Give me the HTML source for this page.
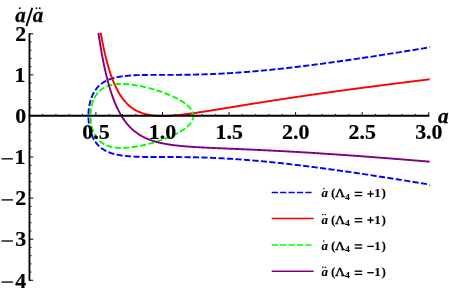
<!DOCTYPE html>
<html><head><meta charset="utf-8"><title>plot</title>
<style>
html,body{margin:0;padding:0;background:#fff;}
body{width:449px;height:294px;overflow:hidden;position:relative;font-family:"Liberation Serif",serif;}
</style></head><body>
<svg width="449" height="294" viewBox="0 0 449 294" style="position:absolute;left:0;top:0;will-change:transform">
<rect x="0" y="0" width="449" height="294" fill="#fff"/>
<g fill="none" stroke-width="1.9" stroke-linejoin="round">
<path d="M88.43 115.95 L88.43 115.44 L88.44 114.93 L88.45 114.42 L88.47 113.91 L88.48 113.40 L88.51 112.89 L88.54 112.38 L88.57 111.88 L88.60 111.37 L88.65 110.87 L88.69 110.36 L88.74 109.86 L88.79 109.36 L88.85 108.86 L88.91 108.36 L88.98 107.87 L89.05 107.37 L89.12 106.88 L89.20 106.39 L89.29 105.90 L89.37 105.41 L89.47 104.93 L89.56 104.45 L89.66 103.97 L89.77 103.50 L89.88 103.02 L89.99 102.55 L90.11 102.08 L90.23 101.62 L90.36 101.16 L90.49 100.70 L90.62 100.25 L90.76 99.79 L90.90 99.35 L91.05 98.90 L91.20 98.46 L91.36 98.02 L91.52 97.59 L91.68 97.16 L91.85 96.73 L92.02 96.31 L92.20 95.89 L92.38 95.48 L92.57 95.07 L92.76 94.66 L92.95 94.26 L93.15 93.86 L93.36 93.47 L93.56 93.08 L93.78 92.70 L93.99 92.32 L94.21 91.94 L94.44 91.57 L94.66 91.20 L94.90 90.84 L95.14 90.48 L95.38 90.13 L95.62 89.78 L95.87 89.44 L96.13 89.10 L96.39 88.76 L96.65 88.43 L96.92 88.11 L97.19 87.79 L97.46 87.47 L97.74 87.16 L98.03 86.85 L98.32 86.55 L98.61 86.25 L98.91 85.96 L99.21 85.67 L99.51 85.39 L99.82 85.11 L100.14 84.84 L100.46 84.57 L100.78 84.30 L101.11 84.04 L101.44 83.79 L101.77 83.54 L102.11 83.29 L102.46 83.05 L102.81 82.81 L103.16 82.58 L103.51 82.35 L103.88 82.13 L104.24 81.91 L104.61 81.69 L104.99 81.48 L105.36 81.27 L105.75 81.07 L106.13 80.87 L106.52 80.68 L106.92 80.49 L107.32 80.31 L107.72 80.12 L108.13 79.95 L108.54 79.77 L108.96 79.60 L109.38 79.44 L109.81 79.28 L110.24 79.12 L110.67 78.97 L111.11 78.82 L111.55 78.67 L112.00 78.53 L112.45 78.39 L112.91 78.26 L113.37 78.12 L113.83 78.00 L114.30 77.87 L114.77 77.75 L115.25 77.63 L115.73 77.52 L116.21 77.41 L116.70 77.30 L117.20 77.19 L117.69 77.09 L118.20 76.99 L118.70 76.90 L119.21 76.80 L119.73 76.72 L120.25 76.63 L120.77 76.54 L121.30 76.46 L121.83 76.38 L122.37 76.31 L122.91 76.24 L123.45 76.17 L124.00 76.10 L124.56 76.03 L125.12 75.97 L125.68 75.91 L126.24 75.85 L126.82 75.79 L127.39 75.74 L127.97 75.69 L128.55 75.64 L129.14 75.59 L129.73 75.55 L130.33 75.50 L130.93 75.46 L131.54 75.42 L132.14 75.38 L132.76 75.35 L133.38 75.31 L134.00 75.28 L134.62 75.25 L135.25 75.22 L135.89 75.19 L136.53 75.17 L137.17 75.14 L137.82 75.12 L138.47 75.10 L139.13 75.08 L139.79 75.06 L140.45 75.04 L141.12 75.02 L141.80 75.01 L142.47 74.99 L143.16 74.98 L143.84 74.97 L144.53 74.96 L145.23 74.95 L145.93 74.94 L146.63 74.93 L147.34 74.92 L148.05 74.91 L148.76 74.91 L149.49 74.90 L150.21 74.90 L150.94 74.89 L151.67 74.89 L152.41 74.88 L153.15 74.88 L153.90 74.88 L154.65 74.88 L155.40 74.87 L156.16 74.87 L156.92 74.87 L157.69 74.87 L158.46 74.87 L159.24 74.87 L160.02 74.87 L160.80 74.87 L161.59 74.87 L162.39 74.87 L163.18 74.87 L163.99 74.87 L164.79 74.87 L165.60 74.87 L166.42 74.87 L167.23 74.87 L168.06 74.87 L168.88 74.87 L169.72 74.87 L170.55 74.86 L171.39 74.86 L172.24 74.86 L173.09 74.86 L173.94 74.85 L174.80 74.85 L175.66 74.85 L176.52 74.84 L177.39 74.84 L178.27 74.83 L179.15 74.83 L180.03 74.82 L180.92 74.81 L181.81 74.80 L182.70 74.79 L183.60 74.79 L184.51 74.77 L185.42 74.76 L186.33 74.75 L187.25 74.74 L188.17 74.72 L189.09 74.71 L190.02 74.69 L190.96 74.68 L191.89 74.66 L192.84 74.64 L193.78 74.62 L194.74 74.60 L195.69 74.58 L196.65 74.56 L197.61 74.53 L198.58 74.51 L199.56 74.48 L200.53 74.46 L201.51 74.43 L202.50 74.40 L203.49 74.37 L204.48 74.34 L205.48 74.30 L206.48 74.27 L207.49 74.23 L208.50 74.20 L209.52 74.16 L210.54 74.12 L211.56 74.08 L212.59 74.03 L213.62 73.99 L214.66 73.94 L215.70 73.90 L216.74 73.85 L217.79 73.80 L218.85 73.75 L219.91 73.70 L220.97 73.64 L222.04 73.59 L223.11 73.53 L224.18 73.47 L225.26 73.41 L226.35 73.35 L227.43 73.29 L228.53 73.22 L229.62 73.16 L230.72 73.09 L231.83 73.02 L232.94 72.95 L234.05 72.88 L235.17 72.80 L236.29 72.73 L237.42 72.65 L238.55 72.57 L239.68 72.49 L240.82 72.41 L241.97 72.32 L243.12 72.24 L244.27 72.15 L245.42 72.06 L246.58 71.97 L247.75 71.88 L248.92 71.78 L250.09 71.69 L251.27 71.59 L252.45 71.49 L253.64 71.39 L254.83 71.29 L256.02 71.18 L257.22 71.08 L258.43 70.97 L259.63 70.86 L260.85 70.75 L262.06 70.63 L263.28 70.52 L264.51 70.40 L265.74 70.29 L266.97 70.17 L268.21 70.04 L269.45 69.92 L270.70 69.80 L271.95 69.67 L273.20 69.54 L274.46 69.41 L275.73 69.28 L276.99 69.15 L278.26 69.01 L279.54 68.88 L280.82 68.74 L282.11 68.60 L283.40 68.46 L284.69 68.31 L285.99 68.17 L287.29 68.02 L288.59 67.87 L289.90 67.72 L291.22 67.57 L292.54 67.42 L293.86 67.26 L295.19 67.10 L296.52 66.95 L297.86 66.79 L299.20 66.62 L300.54 66.46 L301.89 66.30 L303.24 66.13 L304.60 65.96 L305.96 65.79 L307.33 65.62 L308.70 65.45 L310.07 65.27 L311.45 65.09 L312.84 64.92 L314.22 64.74 L315.61 64.56 L317.01 64.37 L318.41 64.19 L319.81 64.00 L321.22 63.82 L322.64 63.63 L324.05 63.44 L325.48 63.25 L326.90 63.05 L328.33 62.86 L329.77 62.66 L331.20 62.46 L332.65 62.26 L334.09 62.06 L335.55 61.86 L337.00 61.66 L338.46 61.45 L339.93 61.24 L341.39 61.03 L342.87 60.82 L344.34 60.61 L345.83 60.40 L347.31 60.19 L348.80 59.97 L350.30 59.75 L351.79 59.53 L353.30 59.31 L354.80 59.09 L356.32 58.87 L357.83 58.65 L359.35 58.42 L360.87 58.19 L362.40 57.97 L363.94 57.74 L365.47 57.50 L367.01 57.27 L368.56 57.04 L370.11 56.80 L371.66 56.57 L373.22 56.33 L374.78 56.09 L376.35 55.85 L377.92 55.61 L379.50 55.36 L381.08 55.12 L382.66 54.87 L384.25 54.63 L385.84 54.38 L387.44 54.13 L389.04 53.88 L390.65 53.62 L392.26 53.37 L393.87 53.12 L395.49 52.86 L397.11 52.60 L398.74 52.34 L400.37 52.08 L402.00 51.82 L403.64 51.56 L405.29 51.30 L406.94 51.03 L408.59 50.77 L410.24 50.50 L411.91 50.23 L413.57 49.96 L415.24 49.69 L416.91 49.42 L418.59 49.15 L420.27 48.87 L421.96 48.60 L423.65 48.32 L425.35 48.04 L427.05 47.76 L428.75 47.48" stroke="#0000ff" stroke-dasharray="4.2525 4.2525" stroke-dashoffset="-2.45" stroke-linecap="square"/>
<path d="M88.43 115.95 L88.43 116.46 L88.44 116.97 L88.45 117.48 L88.47 117.99 L88.48 118.50 L88.51 119.01 L88.54 119.52 L88.57 120.02 L88.60 120.53 L88.65 121.03 L88.69 121.54 L88.74 122.04 L88.79 122.54 L88.85 123.04 L88.91 123.54 L88.98 124.03 L89.05 124.53 L89.12 125.02 L89.20 125.51 L89.29 126.00 L89.37 126.49 L89.47 126.97 L89.56 127.45 L89.66 127.93 L89.77 128.40 L89.88 128.88 L89.99 129.35 L90.11 129.82 L90.23 130.28 L90.36 130.74 L90.49 131.20 L90.62 131.65 L90.76 132.11 L90.90 132.55 L91.05 133.00 L91.20 133.44 L91.36 133.88 L91.52 134.31 L91.68 134.74 L91.85 135.17 L92.02 135.59 L92.20 136.01 L92.38 136.42 L92.57 136.83 L92.76 137.24 L92.95 137.64 L93.15 138.04 L93.36 138.43 L93.56 138.82 L93.78 139.20 L93.99 139.58 L94.21 139.96 L94.44 140.33 L94.66 140.70 L94.90 141.06 L95.14 141.42 L95.38 141.77 L95.62 142.12 L95.87 142.46 L96.13 142.80 L96.39 143.14 L96.65 143.47 L96.92 143.79 L97.19 144.11 L97.46 144.43 L97.74 144.74 L98.03 145.05 L98.32 145.35 L98.61 145.65 L98.91 145.94 L99.21 146.23 L99.51 146.51 L99.82 146.79 L100.14 147.06 L100.46 147.33 L100.78 147.60 L101.11 147.86 L101.44 148.11 L101.77 148.36 L102.11 148.61 L102.46 148.85 L102.81 149.09 L103.16 149.32 L103.51 149.55 L103.88 149.77 L104.24 149.99 L104.61 150.21 L104.99 150.42 L105.36 150.63 L105.75 150.83 L106.13 151.03 L106.52 151.22 L106.92 151.41 L107.32 151.59 L107.72 151.78 L108.13 151.95 L108.54 152.13 L108.96 152.30 L109.38 152.46 L109.81 152.62 L110.24 152.78 L110.67 152.93 L111.11 153.08 L111.55 153.23 L112.00 153.37 L112.45 153.51 L112.91 153.64 L113.37 153.78 L113.83 153.90 L114.30 154.03 L114.77 154.15 L115.25 154.27 L115.73 154.38 L116.21 154.49 L116.70 154.60 L117.20 154.71 L117.69 154.81 L118.20 154.91 L118.70 155.00 L119.21 155.10 L119.73 155.18 L120.25 155.27 L120.77 155.36 L121.30 155.44 L121.83 155.52 L122.37 155.59 L122.91 155.66 L123.45 155.73 L124.00 155.80 L124.56 155.87 L125.12 155.93 L125.68 155.99 L126.24 156.05 L126.82 156.11 L127.39 156.16 L127.97 156.21 L128.55 156.26 L129.14 156.31 L129.73 156.35 L130.33 156.40 L130.93 156.44 L131.54 156.48 L132.14 156.52 L132.76 156.55 L133.38 156.59 L134.00 156.62 L134.62 156.65 L135.25 156.68 L135.89 156.71 L136.53 156.73 L137.17 156.76 L137.82 156.78 L138.47 156.80 L139.13 156.82 L139.79 156.84 L140.45 156.86 L141.12 156.88 L141.80 156.89 L142.47 156.91 L143.16 156.92 L143.84 156.93 L144.53 156.94 L145.23 156.95 L145.93 156.96 L146.63 156.97 L147.34 156.98 L148.05 156.99 L148.76 156.99 L149.49 157.00 L150.21 157.00 L150.94 157.01 L151.67 157.01 L152.41 157.02 L153.15 157.02 L153.90 157.02 L154.65 157.02 L155.40 157.03 L156.16 157.03 L156.92 157.03 L157.69 157.03 L158.46 157.03 L159.24 157.03 L160.02 157.03 L160.80 157.03 L161.59 157.03 L162.39 157.03 L163.18 157.03 L163.99 157.03 L164.79 157.03 L165.60 157.03 L166.42 157.03 L167.23 157.03 L168.06 157.03 L168.88 157.03 L169.72 157.03 L170.55 157.04 L171.39 157.04 L172.24 157.04 L173.09 157.04 L173.94 157.05 L174.80 157.05 L175.66 157.05 L176.52 157.06 L177.39 157.06 L178.27 157.07 L179.15 157.07 L180.03 157.08 L180.92 157.09 L181.81 157.10 L182.70 157.11 L183.60 157.11 L184.51 157.13 L185.42 157.14 L186.33 157.15 L187.25 157.16 L188.17 157.18 L189.09 157.19 L190.02 157.21 L190.96 157.22 L191.89 157.24 L192.84 157.26 L193.78 157.28 L194.74 157.30 L195.69 157.32 L196.65 157.34 L197.61 157.37 L198.58 157.39 L199.56 157.42 L200.53 157.44 L201.51 157.47 L202.50 157.50 L203.49 157.53 L204.48 157.56 L205.48 157.60 L206.48 157.63 L207.49 157.67 L208.50 157.70 L209.52 157.74 L210.54 157.78 L211.56 157.82 L212.59 157.87 L213.62 157.91 L214.66 157.96 L215.70 158.00 L216.74 158.05 L217.79 158.10 L218.85 158.15 L219.91 158.20 L220.97 158.26 L222.04 158.31 L223.11 158.37 L224.18 158.43 L225.26 158.49 L226.35 158.55 L227.43 158.61 L228.53 158.68 L229.62 158.74 L230.72 158.81 L231.83 158.88 L232.94 158.95 L234.05 159.02 L235.17 159.10 L236.29 159.17 L237.42 159.25 L238.55 159.33 L239.68 159.41 L240.82 159.49 L241.97 159.58 L243.12 159.66 L244.27 159.75 L245.42 159.84 L246.58 159.93 L247.75 160.02 L248.92 160.12 L250.09 160.21 L251.27 160.31 L252.45 160.41 L253.64 160.51 L254.83 160.61 L256.02 160.72 L257.22 160.82 L258.43 160.93 L259.63 161.04 L260.85 161.15 L262.06 161.27 L263.28 161.38 L264.51 161.50 L265.74 161.61 L266.97 161.73 L268.21 161.86 L269.45 161.98 L270.70 162.10 L271.95 162.23 L273.20 162.36 L274.46 162.49 L275.73 162.62 L276.99 162.75 L278.26 162.89 L279.54 163.02 L280.82 163.16 L282.11 163.30 L283.40 163.44 L284.69 163.59 L285.99 163.73 L287.29 163.88 L288.59 164.03 L289.90 164.18 L291.22 164.33 L292.54 164.48 L293.86 164.64 L295.19 164.80 L296.52 164.95 L297.86 165.11 L299.20 165.28 L300.54 165.44 L301.89 165.60 L303.24 165.77 L304.60 165.94 L305.96 166.11 L307.33 166.28 L308.70 166.45 L310.07 166.63 L311.45 166.81 L312.84 166.98 L314.22 167.16 L315.61 167.34 L317.01 167.53 L318.41 167.71 L319.81 167.90 L321.22 168.08 L322.64 168.27 L324.05 168.46 L325.48 168.65 L326.90 168.85 L328.33 169.04 L329.77 169.24 L331.20 169.44 L332.65 169.64 L334.09 169.84 L335.55 170.04 L337.00 170.24 L338.46 170.45 L339.93 170.66 L341.39 170.87 L342.87 171.08 L344.34 171.29 L345.83 171.50 L347.31 171.71 L348.80 171.93 L350.30 172.15 L351.79 172.37 L353.30 172.59 L354.80 172.81 L356.32 173.03 L357.83 173.25 L359.35 173.48 L360.87 173.71 L362.40 173.93 L363.94 174.16 L365.47 174.40 L367.01 174.63 L368.56 174.86 L370.11 175.10 L371.66 175.33 L373.22 175.57 L374.78 175.81 L376.35 176.05 L377.92 176.29 L379.50 176.54 L381.08 176.78 L382.66 177.03 L384.25 177.27 L385.84 177.52 L387.44 177.77 L389.04 178.02 L390.65 178.28 L392.26 178.53 L393.87 178.78 L395.49 179.04 L397.11 179.30 L398.74 179.56 L400.37 179.82 L402.00 180.08 L403.64 180.34 L405.29 180.60 L406.94 180.87 L408.59 181.13 L410.24 181.40 L411.91 181.67 L413.57 181.94 L415.24 182.21 L416.91 182.48 L418.59 182.75 L420.27 183.03 L421.96 183.30 L423.65 183.58 L425.35 183.86 L427.05 184.14 L428.75 184.42" stroke="#0000ff" stroke-dasharray="4.2525 4.2525" stroke-dashoffset="-2.45" stroke-linecap="square"/>
<path d="M100.90 33.79 L101.55 37.44 L102.21 40.92 L102.87 44.25 L103.52 47.43 L104.18 50.47 L104.84 53.38 L105.49 56.16 L106.15 58.82 L106.81 61.36 L107.47 63.79 L108.12 66.12 L108.78 68.35 L109.44 70.49 L110.09 72.53 L110.75 74.49 L111.41 76.36 L112.06 78.15 L112.72 79.87 L113.38 81.52 L114.04 83.09 L114.69 84.60 L115.35 86.05 L116.01 87.44 L116.66 88.76 L117.32 90.04 L117.98 91.26 L118.63 92.42 L119.29 93.54 L119.95 94.62 L120.61 95.64 L121.26 96.63 L121.92 97.57 L122.58 98.48 L123.23 99.34 L123.89 100.17 L124.55 100.97 L125.21 101.73 L125.86 102.46 L126.52 103.16 L127.18 103.83 L127.83 104.47 L128.49 105.08 L129.15 105.67 L129.80 106.23 L130.46 106.76 L131.12 107.28 L131.78 107.77 L132.43 108.24 L133.09 108.69 L133.75 109.12 L134.40 109.52 L135.06 109.91 L135.72 110.29 L136.37 110.64 L137.03 110.98 L137.69 111.31 L138.35 111.61 L139.00 111.91 L139.66 112.18 L140.32 112.45 L140.97 112.70 L141.63 112.94 L142.29 113.17 L142.94 113.38 L143.60 113.58 L144.26 113.78 L144.92 113.96 L145.57 114.13 L146.23 114.29 L146.89 114.44 L147.54 114.59 L148.20 114.72 L148.86 114.85 L149.51 114.96 L150.17 115.07 L150.83 115.17 L151.49 115.27 L152.14 115.35 L152.80 115.43 L153.46 115.51 L154.11 115.58 L154.77 115.64 L155.43 115.69 L156.09 115.74 L156.74 115.78 L157.40 115.82 L158.06 115.85 L158.71 115.88 L159.37 115.90 L160.03 115.92 L160.68 115.94 L161.34 115.94 L162.00 115.95 L162.66 115.95 L163.31 115.95 L163.97 115.94 L164.63 115.93 L165.28 115.91 L165.94 115.90 L166.60 115.88 L167.25 115.85 L167.91 115.82 L168.57 115.79 L169.23 115.76 L169.88 115.72 L170.54 115.69 L171.20 115.64 L171.85 115.60 L172.51 115.55 L173.17 115.50 L173.82 115.45 L174.48 115.40 L175.14 115.35 L175.80 115.29 L176.45 115.23 L177.11 115.17 L177.77 115.10 L178.42 115.04 L179.08 114.97 L179.74 114.90 L180.40 114.83 L181.05 114.76 L181.71 114.69 L182.37 114.61 L183.02 114.54 L183.68 114.46 L184.34 114.38 L184.99 114.30 L185.65 114.22 L186.31 114.14 L186.97 114.06 L187.62 113.97 L188.28 113.89 L188.94 113.80 L189.59 113.71 L190.25 113.63 L190.91 113.54 L191.56 113.45 L192.22 113.35 L192.88 113.26 L193.54 113.17 L194.19 113.08 L194.85 112.98 L195.51 112.89 L196.16 112.79 L196.82 112.70 L197.48 112.60 L198.13 112.50 L198.79 112.41 L199.45 112.31 L200.11 112.21 L200.76 112.11 L201.42 112.01 L202.08 111.91 L202.73 111.81 L203.39 111.71 L204.05 111.61 L204.70 111.50 L205.36 111.40 L206.02 111.30 L206.68 111.20 L207.33 111.09 L207.99 110.99 L208.65 110.89 L209.30 110.78 L209.96 110.68 L210.62 110.57 L211.28 110.47 L211.93 110.36 L212.59 110.26 L213.25 110.15 L213.90 110.05 L214.56 109.94 L215.22 109.83 L215.87 109.73 L216.53 109.62 L217.19 109.51 L217.85 109.41 L218.50 109.30 L219.16 109.19 L219.82 109.09 L220.47 108.98 L221.13 108.87 L221.79 108.77 L222.44 108.66 L223.10 108.55 L223.76 108.44 L224.42 108.34 L225.07 108.23 L225.73 108.12 L226.39 108.01 L227.04 107.91 L227.70 107.80 L228.36 107.69 L229.01 107.58 L229.67 107.48 L230.33 107.37 L230.99 107.26 L231.64 107.15 L232.30 107.05 L232.96 106.94 L233.61 106.83 L234.27 106.72 L234.93 106.62 L235.59 106.51 L236.24 106.40 L236.90 106.29 L237.56 106.19 L238.21 106.08 L238.87 105.97 L239.53 105.86 L240.18 105.76 L240.84 105.65 L241.50 105.54 L242.16 105.44 L242.81 105.33 L243.47 105.22 L244.13 105.12 L244.78 105.01 L245.44 104.90 L246.10 104.80 L246.75 104.69 L247.41 104.59 L248.07 104.48 L248.73 104.37 L249.38 104.27 L250.04 104.16 L250.70 104.06 L251.35 103.95 L252.01 103.85 L252.67 103.74 L253.32 103.63 L253.98 103.53 L254.64 103.42 L255.30 103.32 L255.95 103.22 L256.61 103.11 L257.27 103.01 L257.92 102.90 L258.58 102.80 L259.24 102.69 L259.89 102.59 L260.55 102.48 L261.21 102.38 L261.87 102.28 L262.52 102.17 L263.18 102.07 L263.84 101.97 L264.49 101.86 L265.15 101.76 L265.81 101.66 L266.47 101.55 L267.12 101.45 L267.78 101.35 L268.44 101.25 L269.09 101.14 L269.75 101.04 L270.41 100.94 L271.06 100.84 L271.72 100.74 L272.38 100.63 L273.04 100.53 L273.69 100.43 L274.35 100.33 L275.01 100.23 L275.66 100.13 L276.32 100.03 L276.98 99.93 L277.63 99.83 L278.29 99.72 L278.95 99.62 L279.61 99.52 L280.26 99.42 L280.92 99.32 L281.58 99.22 L282.23 99.12 L282.89 99.02 L283.55 98.92 L284.20 98.83 L284.86 98.73 L285.52 98.63 L286.18 98.53 L286.83 98.43 L287.49 98.33 L288.15 98.23 L288.80 98.13 L289.46 98.03 L290.12 97.94 L290.78 97.84 L291.43 97.74 L292.09 97.64 L292.75 97.54 L293.40 97.45 L294.06 97.35 L294.72 97.25 L295.37 97.16 L296.03 97.06 L296.69 96.96 L297.35 96.86 L298.00 96.77 L298.66 96.67 L299.32 96.57 L299.97 96.48 L300.63 96.38 L301.29 96.29 L301.94 96.19 L302.60 96.09 L303.26 96.00 L303.92 95.90 L304.57 95.81 L305.23 95.71 L305.89 95.62 L306.54 95.52 L307.20 95.43 L307.86 95.33 L308.51 95.24 L309.17 95.14 L309.83 95.05 L310.49 94.95 L311.14 94.86 L311.80 94.76 L312.46 94.67 L313.11 94.58 L313.77 94.48 L314.43 94.39 L315.08 94.29 L315.74 94.20 L316.40 94.11 L317.06 94.01 L317.71 93.92 L318.37 93.83 L319.03 93.74 L319.68 93.64 L320.34 93.55 L321.00 93.46 L321.66 93.36 L322.31 93.27 L322.97 93.18 L323.63 93.09 L324.28 93.00 L324.94 92.90 L325.60 92.81 L326.25 92.72 L326.91 92.63 L327.57 92.54 L328.23 92.45 L328.88 92.35 L329.54 92.26 L330.20 92.17 L330.85 92.08 L331.51 91.99 L332.17 91.90 L332.82 91.81 L333.48 91.72 L334.14 91.63 L334.80 91.54 L335.45 91.45 L336.11 91.36 L336.77 91.27 L337.42 91.18 L338.08 91.09 L338.74 91.00 L339.39 90.91 L340.05 90.82 L340.71 90.73 L341.37 90.64 L342.02 90.55 L342.68 90.46 L343.34 90.37 L343.99 90.28 L344.65 90.19 L345.31 90.10 L345.97 90.01 L346.62 89.93 L347.28 89.84 L347.94 89.75 L348.59 89.66 L349.25 89.57 L349.91 89.48 L350.56 89.39 L351.22 89.31 L351.88 89.22 L352.54 89.13 L353.19 89.04 L353.85 88.96 L354.51 88.87 L355.16 88.78 L355.82 88.69 L356.48 88.61 L357.13 88.52 L357.79 88.43 L358.45 88.34 L359.11 88.26 L359.76 88.17 L360.42 88.08 L361.08 88.00 L361.73 87.91 L362.39 87.82 L363.05 87.74 L363.70 87.65 L364.36 87.56 L365.02 87.48 L365.68 87.39 L366.33 87.30 L366.99 87.22 L367.65 87.13 L368.30 87.05 L368.96 86.96 L369.62 86.88 L370.27 86.79 L370.93 86.70 L371.59 86.62 L372.25 86.53 L372.90 86.45 L373.56 86.36 L374.22 86.28 L374.87 86.19 L375.53 86.11 L376.19 86.02 L376.85 85.94 L377.50 85.85 L378.16 85.77 L378.82 85.68 L379.47 85.60 L380.13 85.51 L380.79 85.43 L381.44 85.35 L382.10 85.26 L382.76 85.18 L383.42 85.09 L384.07 85.01 L384.73 84.92 L385.39 84.84 L386.04 84.76 L386.70 84.67 L387.36 84.59 L388.01 84.51 L388.67 84.42 L389.33 84.34 L389.99 84.25 L390.64 84.17 L391.30 84.09 L391.96 84.00 L392.61 83.92 L393.27 83.84 L393.93 83.75 L394.58 83.67 L395.24 83.59 L395.90 83.51 L396.56 83.42 L397.21 83.34 L397.87 83.26 L398.53 83.17 L399.18 83.09 L399.84 83.01 L400.50 82.93 L401.16 82.84 L401.81 82.76 L402.47 82.68 L403.13 82.60 L403.78 82.52 L404.44 82.43 L405.10 82.35 L405.75 82.27 L406.41 82.19 L407.07 82.11 L407.73 82.02 L408.38 81.94 L409.04 81.86 L409.70 81.78 L410.35 81.70 L411.01 81.62 L411.67 81.53 L412.32 81.45 L412.98 81.37 L413.64 81.29 L414.30 81.21 L414.95 81.13 L415.61 81.05 L416.27 80.97 L416.92 80.88 L417.58 80.80 L418.24 80.72 L418.89 80.64 L419.55 80.56 L420.21 80.48 L420.87 80.40 L421.52 80.32 L422.18 80.24 L422.84 80.16 L423.49 80.08 L424.15 80.00 L424.81 79.92 L425.46 79.84 L426.12 79.76 L426.78 79.67 L427.44 79.59 L428.09 79.51 L428.75 79.43" stroke="#ff0000" stroke-linecap="square"/>
<path d="M90.54 115.95 L90.54 115.56 L90.54 115.16 L90.55 114.77 L90.56 114.38 L90.58 113.99 L90.59 113.60 L90.62 113.20 L90.64 112.81 L90.67 112.42 L90.70 112.03 L90.73 111.65 L90.77 111.26 L90.81 110.87 L90.85 110.49 L90.90 110.10 L90.94 109.72 L91.00 109.34 L91.05 108.96 L91.11 108.58 L91.17 108.20 L91.24 107.82 L91.31 107.45 L91.38 107.07 L91.45 106.70 L91.53 106.33 L91.61 105.96 L91.69 105.60 L91.78 105.23 L91.87 104.87 L91.96 104.51 L92.06 104.16 L92.16 103.80 L92.26 103.45 L92.37 103.10 L92.48 102.75 L92.59 102.40 L92.70 102.06 L92.82 101.72 L92.94 101.38 L93.07 101.05 L93.19 100.71 L93.32 100.39 L93.45 100.06 L93.59 99.73 L93.73 99.41 L93.87 99.10 L94.02 98.78 L94.16 98.47 L94.31 98.16 L94.47 97.85 L94.63 97.55 L94.78 97.25 L94.95 96.95 L95.11 96.66 L95.28 96.37 L95.45 96.08 L95.63 95.80 L95.80 95.52 L95.98 95.24 L96.17 94.97 L96.35 94.70 L96.54 94.43 L96.73 94.17 L96.93 93.91 L97.12 93.66 L97.32 93.40 L97.52 93.15 L97.73 92.91 L97.94 92.67 L98.15 92.43 L98.36 92.19 L98.58 91.96 L98.79 91.73 L99.02 91.51 L99.24 91.29 L99.47 91.07 L99.70 90.86 L99.93 90.65 L100.16 90.44 L100.40 90.24 L100.64 90.04 L100.88 89.84 L101.13 89.65 L101.37 89.46 L101.62 89.27 L101.88 89.09 L102.13 88.91 L102.39 88.74 L102.65 88.57 L102.91 88.40 L103.17 88.24 L103.44 88.07 L103.71 87.92 L103.98 87.76 L104.26 87.61 L104.53 87.46 L104.81 87.32 L105.09 87.18 L105.38 87.04 L105.66 86.91 L105.95 86.78 L106.24 86.65 L106.53 86.53 L106.83 86.41 L107.12 86.29 L107.42 86.18 L107.72 86.06 L108.02 85.96 L108.33 85.85 L108.64 85.75 L108.95 85.65 L109.26 85.56 L109.57 85.46 L109.89 85.37 L110.20 85.29 L110.52 85.21 L110.84 85.13 L111.17 85.05 L111.49 84.97 L111.82 84.90 L112.15 84.83 L112.48 84.77 L112.81 84.70 L113.15 84.64 L113.48 84.59 L113.82 84.53 L114.16 84.48 L114.50 84.43 L114.84 84.39 L115.19 84.34 L115.53 84.30 L115.88 84.26 L116.23 84.23 L116.58 84.19 L116.94 84.16 L117.29 84.13 L117.65 84.11 L118.00 84.08 L118.36 84.06 L118.72 84.04 L119.08 84.03 L119.45 84.01 L119.81 84.00 L120.18 83.99 L120.55 83.99 L120.91 83.98 L121.28 83.98 L121.66 83.98 L122.03 83.98 L122.40 83.99 L122.78 83.99 L123.15 84.00 L123.53 84.01 L123.91 84.02 L124.29 84.04 L124.67 84.05 L125.05 84.07 L125.43 84.09 L125.82 84.12 L126.20 84.14 L126.59 84.17 L126.97 84.20 L127.36 84.23 L127.75 84.26 L128.14 84.29 L128.53 84.33 L128.92 84.36 L129.31 84.40 L129.70 84.44 L130.10 84.49 L130.49 84.53 L130.89 84.58 L131.28 84.62 L131.68 84.67 L132.07 84.73 L132.47 84.78 L132.87 84.83 L133.27 84.89 L133.67 84.94 L134.07 85.00 L134.47 85.06 L134.87 85.13 L135.27 85.19 L135.67 85.25 L136.07 85.32 L136.47 85.39 L136.88 85.46 L137.28 85.53 L137.68 85.60 L138.09 85.67 L138.49 85.74 L138.89 85.82 L139.30 85.90 L139.70 85.98 L140.11 86.05 L140.51 86.14 L140.92 86.22 L141.32 86.30 L141.72 86.39 L142.13 86.47 L142.53 86.56 L142.94 86.65 L143.34 86.74 L143.75 86.83 L144.15 86.92 L144.56 87.01 L144.96 87.10 L145.36 87.20 L145.77 87.29 L146.17 87.39 L146.57 87.49 L146.98 87.59 L147.38 87.69 L147.78 87.79 L148.18 87.89 L148.58 87.99 L148.99 88.10 L149.39 88.20 L149.79 88.31 L150.19 88.42 L150.58 88.52 L150.98 88.63 L151.38 88.74 L151.78 88.85 L152.18 88.96 L152.57 89.08 L152.97 89.19 L153.36 89.30 L153.76 89.42 L154.15 89.53 L154.54 89.65 L154.93 89.77 L155.33 89.89 L155.72 90.01 L156.10 90.12 L156.49 90.25 L156.88 90.37 L157.27 90.49 L157.65 90.61 L158.04 90.74 L158.42 90.86 L158.80 90.99 L159.19 91.11 L159.57 91.24 L159.95 91.36 L160.32 91.49 L160.70 91.62 L161.08 91.75 L161.45 91.88 L161.83 92.01 L162.20 92.14 L162.57 92.28 L162.94 92.41 L163.31 92.54 L163.68 92.68 L164.04 92.81 L164.41 92.94 L164.77 93.08 L165.13 93.22 L165.49 93.35 L165.85 93.49 L166.21 93.63 L166.56 93.77 L166.92 93.91 L167.27 94.05 L167.62 94.19 L167.97 94.33 L168.32 94.47 L168.67 94.61 L169.01 94.76 L169.35 94.90 L169.69 95.04 L170.03 95.19 L170.37 95.33 L170.71 95.48 L171.04 95.62 L171.38 95.77 L171.71 95.92 L172.03 96.06 L172.36 96.21 L172.69 96.36 L173.01 96.51 L173.33 96.66 L173.65 96.81 L173.97 96.96 L174.28 97.11 L174.60 97.26 L174.91 97.41 L175.22 97.56 L175.52 97.71 L175.83 97.87 L176.13 98.02 L176.43 98.17 L176.73 98.33 L177.03 98.48 L177.32 98.64 L177.62 98.79 L177.91 98.95 L178.19 99.10 L178.48 99.26 L178.76 99.42 L179.04 99.57 L179.32 99.73 L179.60 99.89 L179.87 100.05 L180.14 100.21 L180.41 100.36 L180.68 100.52 L180.94 100.68 L181.21 100.84 L181.47 101.00 L181.72 101.16 L181.98 101.32 L182.23 101.49 L182.48 101.65 L182.73 101.81 L182.97 101.97 L183.21 102.13 L183.45 102.30 L183.69 102.46 L183.93 102.62 L184.16 102.79 L184.39 102.95 L184.61 103.11 L184.84 103.28 L185.06 103.44 L185.28 103.61 L185.49 103.77 L185.71 103.94 L185.92 104.11 L186.12 104.27 L186.33 104.44 L186.53 104.60 L186.73 104.77 L186.93 104.94 L187.12 105.10 L187.31 105.27 L187.50 105.44 L187.69 105.61 L187.87 105.78 L188.05 105.94 L188.23 106.11 L188.40 106.28 L188.57 106.45 L188.74 106.62 L188.91 106.79 L189.07 106.96 L189.23 107.13 L189.39 107.30 L189.54 107.47 L189.69 107.64 L189.84 107.81 L189.98 107.98 L190.12 108.15 L190.26 108.32 L190.40 108.49 L190.53 108.66 L190.66 108.84 L190.79 109.01 L190.91 109.18 L191.03 109.35 L191.15 109.52 L191.27 109.70 L191.38 109.87 L191.49 110.04 L191.59 110.21 L191.69 110.38 L191.79 110.56 L191.89 110.73 L191.98 110.90 L192.07 111.08 L192.16 111.25 L192.24 111.42 L192.32 111.60 L192.40 111.77 L192.48 111.94 L192.55 112.12 L192.62 112.29 L192.68 112.46 L192.74 112.64 L192.80 112.81 L192.86 112.99 L192.91 113.16 L192.96 113.33 L193.00 113.51 L193.05 113.68 L193.09 113.86 L193.12 114.03 L193.16 114.21 L193.19 114.38 L193.21 114.55 L193.24 114.73 L193.26 114.90 L193.28 115.08 L193.29 115.25 L193.30 115.43 L193.31 115.60 L193.31 115.78 L193.32 115.95" stroke="#00ff00" stroke-dasharray="4.2525 4.2525" stroke-dashoffset="-2.45" stroke-linecap="square"/>
<path d="M90.54 115.95 L90.54 116.34 L90.54 116.74 L90.55 117.13 L90.56 117.52 L90.58 117.91 L90.59 118.30 L90.62 118.70 L90.64 119.09 L90.67 119.48 L90.70 119.87 L90.73 120.25 L90.77 120.64 L90.81 121.03 L90.85 121.41 L90.90 121.80 L90.94 122.18 L91.00 122.56 L91.05 122.94 L91.11 123.32 L91.17 123.70 L91.24 124.08 L91.31 124.45 L91.38 124.83 L91.45 125.20 L91.53 125.57 L91.61 125.94 L91.69 126.30 L91.78 126.67 L91.87 127.03 L91.96 127.39 L92.06 127.74 L92.16 128.10 L92.26 128.45 L92.37 128.80 L92.48 129.15 L92.59 129.50 L92.70 129.84 L92.82 130.18 L92.94 130.52 L93.07 130.85 L93.19 131.19 L93.32 131.51 L93.45 131.84 L93.59 132.17 L93.73 132.49 L93.87 132.80 L94.02 133.12 L94.16 133.43 L94.31 133.74 L94.47 134.05 L94.63 134.35 L94.78 134.65 L94.95 134.95 L95.11 135.24 L95.28 135.53 L95.45 135.82 L95.63 136.10 L95.80 136.38 L95.98 136.66 L96.17 136.93 L96.35 137.20 L96.54 137.47 L96.73 137.73 L96.93 137.99 L97.12 138.24 L97.32 138.50 L97.52 138.75 L97.73 138.99 L97.94 139.23 L98.15 139.47 L98.36 139.71 L98.58 139.94 L98.79 140.17 L99.02 140.39 L99.24 140.61 L99.47 140.83 L99.70 141.04 L99.93 141.25 L100.16 141.46 L100.40 141.66 L100.64 141.86 L100.88 142.06 L101.13 142.25 L101.37 142.44 L101.62 142.63 L101.88 142.81 L102.13 142.99 L102.39 143.16 L102.65 143.33 L102.91 143.50 L103.17 143.66 L103.44 143.83 L103.71 143.98 L103.98 144.14 L104.26 144.29 L104.53 144.44 L104.81 144.58 L105.09 144.72 L105.38 144.86 L105.66 144.99 L105.95 145.12 L106.24 145.25 L106.53 145.37 L106.83 145.49 L107.12 145.61 L107.42 145.72 L107.72 145.84 L108.02 145.94 L108.33 146.05 L108.64 146.15 L108.95 146.25 L109.26 146.34 L109.57 146.44 L109.89 146.53 L110.20 146.61 L110.52 146.69 L110.84 146.77 L111.17 146.85 L111.49 146.93 L111.82 147.00 L112.15 147.07 L112.48 147.13 L112.81 147.20 L113.15 147.26 L113.48 147.31 L113.82 147.37 L114.16 147.42 L114.50 147.47 L114.84 147.51 L115.19 147.56 L115.53 147.60 L115.88 147.64 L116.23 147.67 L116.58 147.71 L116.94 147.74 L117.29 147.77 L117.65 147.79 L118.00 147.82 L118.36 147.84 L118.72 147.86 L119.08 147.87 L119.45 147.89 L119.81 147.90 L120.18 147.91 L120.55 147.91 L120.91 147.92 L121.28 147.92 L121.66 147.92 L122.03 147.92 L122.40 147.91 L122.78 147.91 L123.15 147.90 L123.53 147.89 L123.91 147.88 L124.29 147.86 L124.67 147.85 L125.05 147.83 L125.43 147.81 L125.82 147.78 L126.20 147.76 L126.59 147.73 L126.97 147.70 L127.36 147.67 L127.75 147.64 L128.14 147.61 L128.53 147.57 L128.92 147.54 L129.31 147.50 L129.70 147.46 L130.10 147.41 L130.49 147.37 L130.89 147.32 L131.28 147.28 L131.68 147.23 L132.07 147.17 L132.47 147.12 L132.87 147.07 L133.27 147.01 L133.67 146.96 L134.07 146.90 L134.47 146.84 L134.87 146.77 L135.27 146.71 L135.67 146.65 L136.07 146.58 L136.47 146.51 L136.88 146.44 L137.28 146.37 L137.68 146.30 L138.09 146.23 L138.49 146.16 L138.89 146.08 L139.30 146.00 L139.70 145.92 L140.11 145.85 L140.51 145.76 L140.92 145.68 L141.32 145.60 L141.72 145.51 L142.13 145.43 L142.53 145.34 L142.94 145.25 L143.34 145.16 L143.75 145.07 L144.15 144.98 L144.56 144.89 L144.96 144.80 L145.36 144.70 L145.77 144.61 L146.17 144.51 L146.57 144.41 L146.98 144.31 L147.38 144.21 L147.78 144.11 L148.18 144.01 L148.58 143.91 L148.99 143.80 L149.39 143.70 L149.79 143.59 L150.19 143.48 L150.58 143.38 L150.98 143.27 L151.38 143.16 L151.78 143.05 L152.18 142.94 L152.57 142.82 L152.97 142.71 L153.36 142.60 L153.76 142.48 L154.15 142.37 L154.54 142.25 L154.93 142.13 L155.33 142.01 L155.72 141.89 L156.10 141.78 L156.49 141.65 L156.88 141.53 L157.27 141.41 L157.65 141.29 L158.04 141.16 L158.42 141.04 L158.80 140.91 L159.19 140.79 L159.57 140.66 L159.95 140.54 L160.32 140.41 L160.70 140.28 L161.08 140.15 L161.45 140.02 L161.83 139.89 L162.20 139.76 L162.57 139.62 L162.94 139.49 L163.31 139.36 L163.68 139.22 L164.04 139.09 L164.41 138.96 L164.77 138.82 L165.13 138.68 L165.49 138.55 L165.85 138.41 L166.21 138.27 L166.56 138.13 L166.92 137.99 L167.27 137.85 L167.62 137.71 L167.97 137.57 L168.32 137.43 L168.67 137.29 L169.01 137.14 L169.35 137.00 L169.69 136.86 L170.03 136.71 L170.37 136.57 L170.71 136.42 L171.04 136.28 L171.38 136.13 L171.71 135.98 L172.03 135.84 L172.36 135.69 L172.69 135.54 L173.01 135.39 L173.33 135.24 L173.65 135.09 L173.97 134.94 L174.28 134.79 L174.60 134.64 L174.91 134.49 L175.22 134.34 L175.52 134.19 L175.83 134.03 L176.13 133.88 L176.43 133.73 L176.73 133.57 L177.03 133.42 L177.32 133.26 L177.62 133.11 L177.91 132.95 L178.19 132.80 L178.48 132.64 L178.76 132.48 L179.04 132.33 L179.32 132.17 L179.60 132.01 L179.87 131.85 L180.14 131.69 L180.41 131.54 L180.68 131.38 L180.94 131.22 L181.21 131.06 L181.47 130.90 L181.72 130.74 L181.98 130.58 L182.23 130.41 L182.48 130.25 L182.73 130.09 L182.97 129.93 L183.21 129.77 L183.45 129.60 L183.69 129.44 L183.93 129.28 L184.16 129.11 L184.39 128.95 L184.61 128.79 L184.84 128.62 L185.06 128.46 L185.28 128.29 L185.49 128.13 L185.71 127.96 L185.92 127.79 L186.12 127.63 L186.33 127.46 L186.53 127.30 L186.73 127.13 L186.93 126.96 L187.12 126.80 L187.31 126.63 L187.50 126.46 L187.69 126.29 L187.87 126.12 L188.05 125.96 L188.23 125.79 L188.40 125.62 L188.57 125.45 L188.74 125.28 L188.91 125.11 L189.07 124.94 L189.23 124.77 L189.39 124.60 L189.54 124.43 L189.69 124.26 L189.84 124.09 L189.98 123.92 L190.12 123.75 L190.26 123.58 L190.40 123.41 L190.53 123.24 L190.66 123.06 L190.79 122.89 L190.91 122.72 L191.03 122.55 L191.15 122.38 L191.27 122.20 L191.38 122.03 L191.49 121.86 L191.59 121.69 L191.69 121.52 L191.79 121.34 L191.89 121.17 L191.98 121.00 L192.07 120.82 L192.16 120.65 L192.24 120.48 L192.32 120.30 L192.40 120.13 L192.48 119.96 L192.55 119.78 L192.62 119.61 L192.68 119.44 L192.74 119.26 L192.80 119.09 L192.86 118.91 L192.91 118.74 L192.96 118.57 L193.00 118.39 L193.05 118.22 L193.09 118.04 L193.12 117.87 L193.16 117.69 L193.19 117.52 L193.21 117.35 L193.24 117.17 L193.26 117.00 L193.28 116.82 L193.29 116.65 L193.30 116.47 L193.31 116.30 L193.31 116.12 L193.32 115.95" stroke="#00ff00" stroke-dasharray="4.2525 4.2525" stroke-dashoffset="-2.45" stroke-linecap="square"/>
<path d="M98.58 33.79 L99.25 38.25 L99.91 42.50 L100.57 46.57 L101.23 50.47 L101.89 54.19 L102.55 57.75 L103.22 61.16 L103.88 64.42 L104.54 67.55 L105.20 70.54 L105.86 73.41 L106.52 76.15 L107.19 78.79 L107.85 81.31 L108.51 83.74 L109.17 86.06 L109.83 88.29 L110.49 90.43 L111.16 92.48 L111.82 94.46 L112.48 96.35 L113.14 98.17 L113.80 99.92 L114.46 101.60 L115.13 103.21 L115.79 104.77 L116.45 106.26 L117.11 107.69 L117.77 109.08 L118.43 110.40 L119.10 111.68 L119.76 112.91 L120.42 114.10 L121.08 115.24 L121.74 116.33 L122.40 117.39 L123.06 118.41 L123.73 119.39 L124.39 120.34 L125.05 121.25 L125.71 122.13 L126.37 122.97 L127.03 123.79 L127.70 124.57 L128.36 125.33 L129.02 126.07 L129.68 126.77 L130.34 127.45 L131.00 128.11 L131.67 128.74 L132.33 129.36 L132.99 129.95 L133.65 130.52 L134.31 131.07 L134.97 131.60 L135.64 132.11 L136.30 132.61 L136.96 133.09 L137.62 133.55 L138.28 134.00 L138.94 134.43 L139.61 134.85 L140.27 135.25 L140.93 135.64 L141.59 136.02 L142.25 136.39 L142.91 136.74 L143.58 137.08 L144.24 137.41 L144.90 137.73 L145.56 138.04 L146.22 138.34 L146.88 138.63 L147.55 138.91 L148.21 139.18 L148.87 139.44 L149.53 139.70 L150.19 139.94 L150.85 140.18 L151.52 140.41 L152.18 140.63 L152.84 140.85 L153.50 141.06 L154.16 141.26 L154.82 141.46 L155.49 141.65 L156.15 141.83 L156.81 142.01 L157.47 142.19 L158.13 142.36 L158.79 142.52 L159.46 142.68 L160.12 142.83 L160.78 142.98 L161.44 143.12 L162.10 143.26 L162.76 143.40 L163.43 143.53 L164.09 143.66 L164.75 143.79 L165.41 143.91 L166.07 144.02 L166.73 144.14 L167.40 144.25 L168.06 144.36 L168.72 144.46 L169.38 144.56 L170.04 144.66 L170.70 144.76 L171.37 144.85 L172.03 144.94 L172.69 145.03 L173.35 145.12 L174.01 145.20 L174.67 145.29 L175.34 145.37 L176.00 145.44 L176.66 145.52 L177.32 145.59 L177.98 145.66 L178.64 145.73 L179.31 145.80 L179.97 145.87 L180.63 145.93 L181.29 146.00 L181.95 146.06 L182.61 146.12 L183.28 146.18 L183.94 146.24 L184.60 146.29 L185.26 146.35 L185.92 146.40 L186.58 146.46 L187.25 146.51 L187.91 146.56 L188.57 146.61 L189.23 146.66 L189.89 146.70 L190.55 146.75 L191.22 146.80 L191.88 146.84 L192.54 146.89 L193.20 146.93 L193.86 146.97 L194.52 147.01 L195.19 147.05 L195.85 147.10 L196.51 147.14 L197.17 147.17 L197.83 147.21 L198.49 147.25 L199.16 147.29 L199.82 147.32 L200.48 147.36 L201.14 147.40 L201.80 147.43 L202.46 147.47 L203.13 147.50 L203.79 147.54 L204.45 147.57 L205.11 147.60 L205.77 147.64 L206.43 147.67 L207.10 147.70 L207.76 147.73 L208.42 147.76 L209.08 147.79 L209.74 147.83 L210.40 147.86 L211.07 147.89 L211.73 147.92 L212.39 147.95 L213.05 147.98 L213.71 148.01 L214.37 148.04 L215.04 148.07 L215.70 148.09 L216.36 148.12 L217.02 148.15 L217.68 148.18 L218.34 148.21 L219.01 148.24 L219.67 148.27 L220.33 148.30 L220.99 148.32 L221.65 148.35 L222.31 148.38 L222.97 148.41 L223.64 148.44 L224.30 148.46 L224.96 148.49 L225.62 148.52 L226.28 148.55 L226.94 148.57 L227.61 148.60 L228.27 148.63 L228.93 148.66 L229.59 148.69 L230.25 148.71 L230.91 148.74 L231.58 148.77 L232.24 148.80 L232.90 148.82 L233.56 148.85 L234.22 148.88 L234.88 148.91 L235.55 148.94 L236.21 148.96 L236.87 148.99 L237.53 149.02 L238.19 149.05 L238.85 149.08 L239.52 149.10 L240.18 149.13 L240.84 149.16 L241.50 149.19 L242.16 149.22 L242.82 149.25 L243.49 149.28 L244.15 149.30 L244.81 149.33 L245.47 149.36 L246.13 149.39 L246.79 149.42 L247.46 149.45 L248.12 149.48 L248.78 149.51 L249.44 149.54 L250.10 149.57 L250.76 149.60 L251.43 149.63 L252.09 149.66 L252.75 149.69 L253.41 149.72 L254.07 149.75 L254.73 149.78 L255.40 149.81 L256.06 149.84 L256.72 149.87 L257.38 149.90 L258.04 149.93 L258.70 149.96 L259.37 149.99 L260.03 150.02 L260.69 150.06 L261.35 150.09 L262.01 150.12 L262.67 150.15 L263.34 150.18 L264.00 150.21 L264.66 150.25 L265.32 150.28 L265.98 150.31 L266.64 150.34 L267.31 150.38 L267.97 150.41 L268.63 150.44 L269.29 150.48 L269.95 150.51 L270.61 150.54 L271.28 150.58 L271.94 150.61 L272.60 150.64 L273.26 150.68 L273.92 150.71 L274.58 150.74 L275.25 150.78 L275.91 150.81 L276.57 150.85 L277.23 150.88 L277.89 150.92 L278.55 150.95 L279.22 150.99 L279.88 151.02 L280.54 151.06 L281.20 151.09 L281.86 151.13 L282.52 151.16 L283.19 151.20 L283.85 151.24 L284.51 151.27 L285.17 151.31 L285.83 151.34 L286.49 151.38 L287.16 151.42 L287.82 151.45 L288.48 151.49 L289.14 151.53 L289.80 151.56 L290.46 151.60 L291.13 151.64 L291.79 151.68 L292.45 151.71 L293.11 151.75 L293.77 151.79 L294.43 151.83 L295.10 151.87 L295.76 151.90 L296.42 151.94 L297.08 151.98 L297.74 152.02 L298.40 152.06 L299.07 152.10 L299.73 152.14 L300.39 152.18 L301.05 152.21 L301.71 152.25 L302.37 152.29 L303.04 152.33 L303.70 152.37 L304.36 152.41 L305.02 152.45 L305.68 152.49 L306.34 152.53 L307.01 152.57 L307.67 152.61 L308.33 152.65 L308.99 152.70 L309.65 152.74 L310.31 152.78 L310.98 152.82 L311.64 152.86 L312.30 152.90 L312.96 152.94 L313.62 152.98 L314.28 153.03 L314.95 153.07 L315.61 153.11 L316.27 153.15 L316.93 153.19 L317.59 153.23 L318.25 153.28 L318.92 153.32 L319.58 153.36 L320.24 153.41 L320.90 153.45 L321.56 153.49 L322.22 153.53 L322.89 153.58 L323.55 153.62 L324.21 153.66 L324.87 153.71 L325.53 153.75 L326.19 153.79 L326.85 153.84 L327.52 153.88 L328.18 153.93 L328.84 153.97 L329.50 154.01 L330.16 154.06 L330.82 154.10 L331.49 154.15 L332.15 154.19 L332.81 154.24 L333.47 154.28 L334.13 154.33 L334.79 154.37 L335.46 154.42 L336.12 154.46 L336.78 154.51 L337.44 154.55 L338.10 154.60 L338.76 154.64 L339.43 154.69 L340.09 154.74 L340.75 154.78 L341.41 154.83 L342.07 154.87 L342.73 154.92 L343.40 154.97 L344.06 155.01 L344.72 155.06 L345.38 155.11 L346.04 155.15 L346.70 155.20 L347.37 155.25 L348.03 155.29 L348.69 155.34 L349.35 155.39 L350.01 155.43 L350.67 155.48 L351.34 155.53 L352.00 155.58 L352.66 155.62 L353.32 155.67 L353.98 155.72 L354.64 155.77 L355.31 155.82 L355.97 155.86 L356.63 155.91 L357.29 155.96 L357.95 156.01 L358.61 156.06 L359.28 156.10 L359.94 156.15 L360.60 156.20 L361.26 156.25 L361.92 156.30 L362.58 156.35 L363.25 156.40 L363.91 156.45 L364.57 156.50 L365.23 156.54 L365.89 156.59 L366.55 156.64 L367.22 156.69 L367.88 156.74 L368.54 156.79 L369.20 156.84 L369.86 156.89 L370.52 156.94 L371.19 156.99 L371.85 157.04 L372.51 157.09 L373.17 157.14 L373.83 157.19 L374.49 157.24 L375.16 157.29 L375.82 157.34 L376.48 157.39 L377.14 157.44 L377.80 157.49 L378.46 157.55 L379.13 157.60 L379.79 157.65 L380.45 157.70 L381.11 157.75 L381.77 157.80 L382.43 157.85 L383.10 157.90 L383.76 157.95 L384.42 158.01 L385.08 158.06 L385.74 158.11 L386.40 158.16 L387.07 158.21 L387.73 158.26 L388.39 158.32 L389.05 158.37 L389.71 158.42 L390.37 158.47 L391.04 158.52 L391.70 158.58 L392.36 158.63 L393.02 158.68 L393.68 158.73 L394.34 158.79 L395.01 158.84 L395.67 158.89 L396.33 158.94 L396.99 159.00 L397.65 159.05 L398.31 159.10 L398.98 159.15 L399.64 159.21 L400.30 159.26 L400.96 159.31 L401.62 159.37 L402.28 159.42 L402.95 159.47 L403.61 159.53 L404.27 159.58 L404.93 159.63 L405.59 159.69 L406.25 159.74 L406.92 159.79 L407.58 159.85 L408.24 159.90 L408.90 159.95 L409.56 160.01 L410.22 160.06 L410.89 160.12 L411.55 160.17 L412.21 160.22 L412.87 160.28 L413.53 160.33 L414.19 160.39 L414.86 160.44 L415.52 160.50 L416.18 160.55 L416.84 160.60 L417.50 160.66 L418.16 160.71 L418.83 160.77 L419.49 160.82 L420.15 160.88 L420.81 160.93 L421.47 160.99 L422.13 161.04 L422.80 161.10 L423.46 161.15 L424.12 161.21 L424.78 161.26 L425.44 161.32 L426.10 161.37 L426.77 161.43 L427.43 161.48 L428.09 161.54 L428.75 161.59" stroke="#800080" stroke-linecap="square"/>
</g>
<rect x="429.2" y="45.9" width="0.9" height="1.9" fill="#0000ff" opacity="0.55" transform="rotate(-14 429.6 46.8)"/>
<rect x="429.2" y="184.2" width="0.9" height="1.9" fill="#0000ff" opacity="0.55" transform="rotate(14 429.6 185.1)"/>
<g stroke="#000" stroke-width="1.8" fill="none">
<line x1="28.55" y1="115.75" x2="429.35" y2="115.75"/>
<line x1="29.45" y1="33.19" x2="29.45" y2="280.87"/>
</g>
<path d="M42.62 115.75 v-1.80 M55.93 115.75 v-1.80 M69.25 115.75 v-1.80 M82.56 115.75 v-1.80 M95.88 115.75 v-3.60 M109.19 115.75 v-1.80 M122.50 115.75 v-1.80 M135.82 115.75 v-1.80 M149.14 115.75 v-1.80 M162.45 115.75 v-3.60 M175.77 115.75 v-1.80 M189.08 115.75 v-1.80 M202.40 115.75 v-1.80 M215.71 115.75 v-1.80 M229.03 115.75 v-3.60 M242.34 115.75 v-1.80 M255.66 115.75 v-1.80 M268.97 115.75 v-1.80 M282.28 115.75 v-1.80 M295.60 115.75 v-3.60 M308.92 115.75 v-1.80 M322.23 115.75 v-1.80 M335.55 115.75 v-1.80 M348.86 115.75 v-1.80 M362.18 115.75 v-3.60 M375.49 115.75 v-1.80 M388.81 115.75 v-1.80 M402.12 115.75 v-1.80 M415.44 115.75 v-1.80 M428.75 115.75 v-3.60 M29.45 280.27 h3.80 M29.45 272.05 h2.00 M29.45 263.84 h2.00 M29.45 255.62 h2.00 M29.45 247.41 h2.00 M29.45 239.19 h3.80 M29.45 230.97 h2.00 M29.45 222.76 h2.00 M29.45 214.54 h2.00 M29.45 206.33 h2.00 M29.45 198.11 h3.80 M29.45 189.89 h2.00 M29.45 181.68 h2.00 M29.45 173.46 h2.00 M29.45 165.25 h2.00 M29.45 157.03 h3.80 M29.45 148.81 h2.00 M29.45 140.60 h2.00 M29.45 132.38 h2.00 M29.45 124.17 h2.00 M29.45 107.73 h2.00 M29.45 99.52 h2.00 M29.45 91.30 h2.00 M29.45 83.09 h2.00 M29.45 74.87 h3.80 M29.45 66.65 h2.00 M29.45 58.44 h2.00 M29.45 50.22 h2.00 M29.45 42.01 h2.00 M29.45 33.79 h3.80" stroke="#000" stroke-width="1" fill="none"/>
<g font-family="'Liberation Serif', serif" font-weight="bold" font-size="21.2" fill="#000" stroke="#000" stroke-width="0.2">
<text transform="translate(95.97 138.80) scale(1.035 1)" text-anchor="middle">0.5</text>
<text transform="translate(162.55 138.80) scale(1.035 1)" text-anchor="middle">1.0</text>
<text transform="translate(229.13 138.80) scale(1.035 1)" text-anchor="middle">1.5</text>
<text transform="translate(295.70 138.80) scale(1.035 1)" text-anchor="middle">2.0</text>
<text transform="translate(362.28 138.80) scale(1.035 1)" text-anchor="middle">2.5</text>
<text transform="translate(428.85 138.80) scale(1.035 1)" text-anchor="middle">3.0</text>
<text transform="translate(26.30 40.69) scale(1.035 1)" text-anchor="end">2</text>
<text transform="translate(25.40 82.17) scale(1.035 1)" text-anchor="end">1</text>
<text transform="translate(26.30 122.95) scale(1.035 1)" text-anchor="end">0</text>
<text transform="translate(25.40 164.33) scale(1.035 1)" text-anchor="end">1</text>
<text transform="translate(26.30 205.41) scale(1.035 1)" text-anchor="end">2</text>
<text transform="translate(26.30 246.49) scale(1.035 1)" text-anchor="end">3</text>
<text transform="translate(26.30 287.57) scale(1.035 1)" text-anchor="end">4</text>
</g>
<rect x="1.5" y="158.18" width="11.5" height="1.3" fill="#000"/>
<rect x="1.5" y="199.26" width="11.5" height="1.3" fill="#000"/>
<rect x="1.5" y="240.34" width="11.5" height="1.3" fill="#000"/>
<rect x="1.5" y="281.42" width="11.5" height="1.3" fill="#000"/>
<g font-family="'Liberation Serif', serif" font-weight="bold" font-style="italic" font-size="20" fill="#000" stroke="#000" stroke-width="0.25">
<text transform="translate(437.9 123.3) scale(1.06 1)">a</text>
<text transform="translate(15.3 22.1) scale(1.05 1)">a</text>
<text transform="translate(32.8 22.1) scale(1.05 1)">a</text>
</g>
<line x1="26.4" y1="26.1" x2="32.25" y2="7.8" stroke="#000" stroke-width="1.9"/>
<g fill="#000">
<circle cx="19.75" cy="8.2" r="0.9"/>
<circle cx="36.5" cy="8.2" r="0.9"/>
<circle cx="39.8" cy="8.2" r="0.9"/>
</g>
<line x1="271.7" y1="192.40" x2="313.7" y2="192.40" stroke="#0000ff" stroke-width="1.5" stroke-dasharray="6.3 2.1"/>
<g font-family="'Liberation Serif', serif" font-weight="bold" font-size="13" fill="#000" stroke="#000" stroke-width="0.06">
<text x="321.4" y="197.40" font-style="italic">a</text>
<circle cx="323.9" cy="188.40" r="0.75"/>
<text x="330.9" y="197.40" font-size="13.3">(</text>
<text x="334.9" y="197.40" font-size="13.5" font-weight="normal" stroke-width="0.45" textLength="10.1" lengthAdjust="spacingAndGlyphs">Λ</text>
<text transform="translate(345.0 199.60) scale(1.1 1)" font-size="8.8">4</text>
<text x="374.2" y="197.40">1</text>
<text x="381.5" y="197.40" font-size="13.3">)</text>
</g>
<rect x="354.7" y="191.72" width="7.5" height="1.35" fill="#000"/>
<rect x="354.7" y="194.92" width="7.5" height="1.35" fill="#000"/>
<rect x="367.3" y="193.22" width="6.5" height="1.35" fill="#000"/>
<rect x="369.87" y="190.65" width="1.35" height="6.5" fill="#000"/>
<line x1="271.7" y1="218.60" x2="313.7" y2="218.60" stroke="#ff0000" stroke-width="1.5"/>
<g font-family="'Liberation Serif', serif" font-weight="bold" font-size="13" fill="#000" stroke="#000" stroke-width="0.06">
<text x="321.4" y="223.60" font-style="italic">a</text>
<circle cx="322.8" cy="214.60" r="0.75"/>
<circle cx="325.4" cy="214.60" r="0.75"/>
<text x="330.9" y="223.60" font-size="13.3">(</text>
<text x="334.9" y="223.60" font-size="13.5" font-weight="normal" stroke-width="0.45" textLength="10.1" lengthAdjust="spacingAndGlyphs">Λ</text>
<text transform="translate(345.0 225.80) scale(1.1 1)" font-size="8.8">4</text>
<text x="374.2" y="223.60">1</text>
<text x="381.5" y="223.60" font-size="13.3">)</text>
</g>
<rect x="354.7" y="217.92" width="7.5" height="1.35" fill="#000"/>
<rect x="354.7" y="221.12" width="7.5" height="1.35" fill="#000"/>
<rect x="367.3" y="219.42" width="6.5" height="1.35" fill="#000"/>
<rect x="369.87" y="216.85" width="1.35" height="6.5" fill="#000"/>
<line x1="271.7" y1="244.90" x2="313.7" y2="244.90" stroke="#00ff00" stroke-width="1.5" stroke-dasharray="6.3 2.1"/>
<g font-family="'Liberation Serif', serif" font-weight="bold" font-size="13" fill="#000" stroke="#000" stroke-width="0.06">
<text x="321.4" y="249.90" font-style="italic">a</text>
<circle cx="323.9" cy="240.90" r="0.75"/>
<text x="330.9" y="249.90" font-size="13.3">(</text>
<text x="334.9" y="249.90" font-size="13.5" font-weight="normal" stroke-width="0.45" textLength="10.1" lengthAdjust="spacingAndGlyphs">Λ</text>
<text transform="translate(345.0 252.10) scale(1.1 1)" font-size="8.8">4</text>
<text x="374.2" y="249.90">1</text>
<text x="381.5" y="249.90" font-size="13.3">)</text>
</g>
<rect x="354.7" y="244.22" width="7.5" height="1.35" fill="#000"/>
<rect x="354.7" y="247.42" width="7.5" height="1.35" fill="#000"/>
<rect x="367.3" y="245.72" width="6.5" height="1.35" fill="#000"/>
<line x1="271.7" y1="271.20" x2="313.7" y2="271.20" stroke="#800080" stroke-width="1.5"/>
<g font-family="'Liberation Serif', serif" font-weight="bold" font-size="13" fill="#000" stroke="#000" stroke-width="0.06">
<text x="321.4" y="276.20" font-style="italic">a</text>
<circle cx="322.8" cy="267.20" r="0.75"/>
<circle cx="325.4" cy="267.20" r="0.75"/>
<text x="330.9" y="276.20" font-size="13.3">(</text>
<text x="334.9" y="276.20" font-size="13.5" font-weight="normal" stroke-width="0.45" textLength="10.1" lengthAdjust="spacingAndGlyphs">Λ</text>
<text transform="translate(345.0 278.40) scale(1.1 1)" font-size="8.8">4</text>
<text x="374.2" y="276.20">1</text>
<text x="381.5" y="276.20" font-size="13.3">)</text>
</g>
<rect x="354.7" y="270.52" width="7.5" height="1.35" fill="#000"/>
<rect x="354.7" y="273.72" width="7.5" height="1.35" fill="#000"/>
<rect x="367.3" y="272.02" width="6.5" height="1.35" fill="#000"/>
</svg>
</body></html>
